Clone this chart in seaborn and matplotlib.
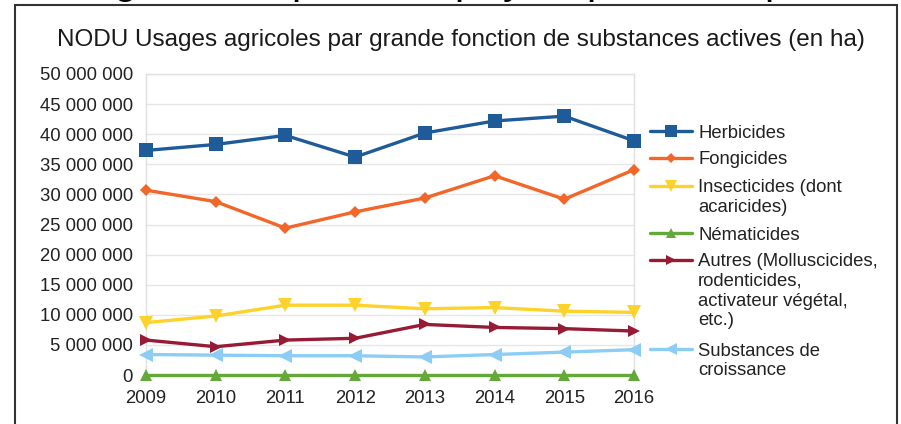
import matplotlib
matplotlib.use("Agg")
import matplotlib.pyplot as plt
from matplotlib.lines import Line2D
from matplotlib.patches import Rectangle
from matplotlib.ticker import FuncFormatter, MultipleLocator
import seaborn as sns
import pandas as pd

# ── Données (ha) ─────────────────────────────────────────────────────────────

YEARS = [2009, 2010, 2011, 2012, 2013, 2014, 2015, 2016]

HERBICIDES = [37_300_000, 38_300_000, 39_800_000, 36_200_000, 40_200_000, 42_200_000, 43_000_000, 38_900_000]
FONGICIDES = [30_700_000, 28_800_000, 24_400_000, 27_100_000, 29_400_000, 33_100_000, 29_200_000, 34_100_000]
INSECTICIDES = [8_700_000, 9_800_000, 11_600_000, 11_600_000, 11_000_000, 11_200_000, 10_600_000, 10_400_000]
NEMATICIDES = [50_000, 50_000, 50_000, 50_000, 50_000, 50_000, 50_000, 50_000]
AUTRES = [5_800_000, 4_700_000, 5_800_000, 6_100_000, 8_400_000, 7_900_000, 7_700_000, 7_300_000]
CROISSANCE = [3_400_000, 3_300_000, 3_200_000, 3_200_000, 3_000_000, 3_400_000, 3_800_000, 4_200_000]

LABELS = [
    "Herbicides",
    "Fongicides",
    "Insecticides (dont\nacaricides)",
    "Nématicides",
    "Autres (Molluscicides,\nrodenticides,\nactivateur végétal,\netc.)",
    "Substances de\ncroissance",
]
SERIES = [HERBICIDES, FONGICIDES, INSECTICIDES, NEMATICIDES, AUTRES, CROISSANCE]

TITLE = "NODU Usages agricoles par grande fonction de substances actives (en ha)"

# ── Style ────────────────────────────────────────────────────────────────────

COLORS = ["#1e5b98", "#f2662a", "#fdd22a", "#64a83a", "#951c34", "#8ccdf6"]
MARKERS = ["s", "D", "v", "^", ">", "<"]
MSIZES = [10, 6.5, 10, 9, 9, 9.5]

W, H = 901, 424

sns.set_style("white")
plt.rcParams["font.family"] = ["Liberation Sans", "DejaVu Sans"]


def fx(x):
    return x / W


def fy(y):
    return 1 - y / H


def fmt_thousands(v, _):
    return f"{int(round(v)):,}".replace(",", " ")


def main():
    fig = plt.figure(figsize=(W / 100, H / 100), dpi=100)
    ax = fig.add_axes([fx(146), fy(375), fx(634) - fx(146), fy(74) - fy(375)])

    for label, vals, c, m, ms in zip(LABELS, SERIES, COLORS, MARKERS, MSIZES):
        df = pd.DataFrame({"annee": YEARS, "ha": vals})
        sns.lineplot(
            data=df, x="annee", y="ha", ax=ax, color=c, marker=m,
            markersize=ms, markeredgewidth=0, linewidth=2.4, legend=False,
            clip_on=False, zorder=3,
        )

    ax.set_xlim(YEARS[0], YEARS[-1])
    ax.set_ylim(0, 50_000_000)
    ax.yaxis.set_major_locator(MultipleLocator(5_000_000))
    ax.yaxis.set_major_formatter(FuncFormatter(fmt_thousands))
    ax.set_xticks(YEARS)
    ax.set_xlabel("")
    ax.set_ylabel("")
    ax.grid(axis="y", color="#e6e6e6", linewidth=1)
    ax.grid(axis="x", visible=False)
    for s in ax.spines.values():
        s.set_color("#e0e0e0")
        s.set_linewidth(1)
    ax.tick_params(axis="y", length=4.5, width=1, color="#e0e0e0", pad=5,
                   labelsize=13.3, labelcolor="#222222")
    ax.tick_params(axis="x", length=0, pad=11, labelsize=13.3, labelcolor="#222222")

    # Titre
    fig.text(fx(461), fy(46), TITLE, ha="center", va="baseline",
             fontsize=17.5, color="#1a1a1a")

    # Légende (poignée alignée sur la première ligne)
    first_line_y = [131, 158, 186, 233, 260, 349]
    line_gap = 19.5
    for label, c, m, ms, y in zip(LABELS, COLORS, MARKERS, MSIZES, first_line_y):
        fig.add_artist(Line2D([fx(650), fx(692)], [fy(y), fy(y)], color=c,
                              linewidth=2.4, transform=fig.transFigure))
        fig.add_artist(Line2D([fx(671)], [fy(y)], color=c, marker=m,
                              markersize=ms * 0.85, markeredgewidth=0,
                              transform=fig.transFigure))
        for i, part in enumerate(label.split("\n")):
            fig.text(fx(698), fy(y + i * line_gap), part, ha="left",
                     va="center_baseline", fontsize=13.3, color="#222222")

    # Cadre extérieur et titre tronqué au-dessus
    fig.add_artist(Rectangle((fx(15), -0.1), fx(897) - fx(15), fy(5) + 0.1,
                             fill=False, edgecolor="#333333", linewidth=1.5,
                             transform=fig.transFigure))
    for ch, x in zip("gppypp", [125, 303, 466, 513, 598, 776]):
        fig.text(fx(x), fy(-7), ch, ha="center", va="baseline",
                 fontsize=30, color="black")

    fig.savefig("out.png", dpi=100)
    plt.close(fig)


if __name__ == "__main__":
    main()
